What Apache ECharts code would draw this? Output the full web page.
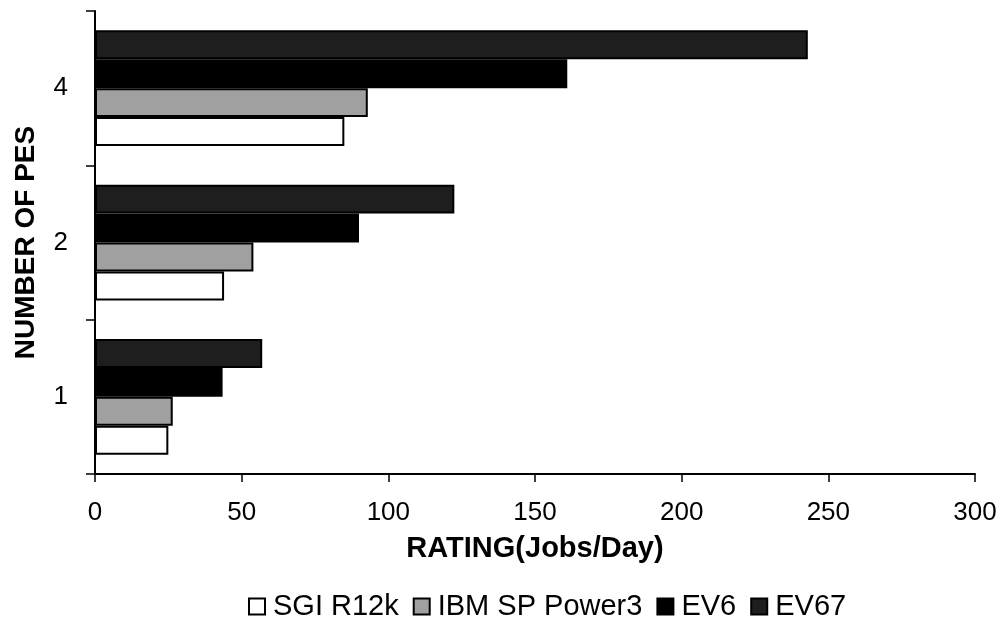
<!DOCTYPE html>
<html>
<head>
<meta charset="utf-8">
<script src="https://cdn.jsdelivr.net/npm/echarts@6/dist/echarts.min.js"></script>
<style>
  html, body { margin: 0; padding: 0; background: #fff; }
  #chart { width: 1007px; height: 638px; }
</style>
</head>
<body>
<div id="chart"></div>
<script>
// categories bottom -> top
const pes = ['1', '2', '4'];
const xTicks = [0, 50, 100, 150, 200, 250, 300];

// ratings (jobs/day) per number of PEs
const sgiR12k = [25, 44, 85];
const ibmPower3 = [26.5, 54, 93];
const ev6 = [43.5, 90, 161];
const ev67 = [57, 122.5, 243];

const FONT = 'Liberation Sans, Arial, sans-serif';

const chart = echarts.init(document.getElementById('chart'));

function bar(name, data, color) {
  return {
    name: name,
    type: 'bar',
    data: data,
    barGap: '0%',
    barCategoryGap: '25%',
    itemStyle: { color: color, borderColor: '#000', borderWidth: 2 },
    emphasis: { disabled: true }
  };
}

chart.setOption({
  animation: false,
  textStyle: { fontFamily: FONT },
  grid: { left: 95, right: 32, top: 11, bottom: 164 },
  legend: {
    top: 587,
    left: 243,
    itemWidth: 16,
    itemHeight: 16,
    itemGap: 14,
    icon: 'rect',
    textStyle: { fontSize: 29, color: '#000', fontFamily: FONT, padding: [0, 0, 0, 3] },
    data: ['SGI R12k', 'IBM SP Power3', 'EV6', 'EV67']
  },
  xAxis: {
    type: 'value',
    min: xTicks[0],
    max: xTicks[xTicks.length - 1],
    interval: 50,
    name: 'RATING(Jobs/Day)',
    nameLocation: 'middle',
    nameGap: 60,
    nameTextStyle: { fontSize: 29, fontWeight: 'bold', color: '#000', fontFamily: FONT },
    axisLine: { show: true, lineStyle: { color: '#000', width: 2 } },
    axisTick: { show: true, length: 8, lineStyle: { color: '#000', width: 1.5 } },
    axisLabel: { fontSize: 26, color: '#000', margin: 26, fontFamily: FONT },
    splitLine: { show: false }
  },
  yAxis: {
    type: 'category',
    data: pes,
    name: 'NUMBER OF PES',
    nameLocation: 'middle',
    nameGap: 55,
    nameTextStyle: { fontSize: 28, fontWeight: 'bold', color: '#000', fontFamily: FONT },
    axisLine: { show: true, lineStyle: { color: '#000', width: 2 } },
    axisTick: { show: true, length: 9, lineStyle: { color: '#000', width: 1.5 } },
    axisLabel: { fontSize: 26, color: '#000', margin: 27, fontFamily: FONT }
  },
  // bars are laid out top -> bottom in series order, so EV67 goes first
  series: [
    bar('EV67', ev67, '#1e1e1e'),
    bar('EV6', ev6, '#000000'),
    bar('IBM SP Power3', ibmPower3, '#a0a0a0'),
    bar('SGI R12k', sgiR12k, '#ffffff')
  ]
});
</script>
</body>
</html>
